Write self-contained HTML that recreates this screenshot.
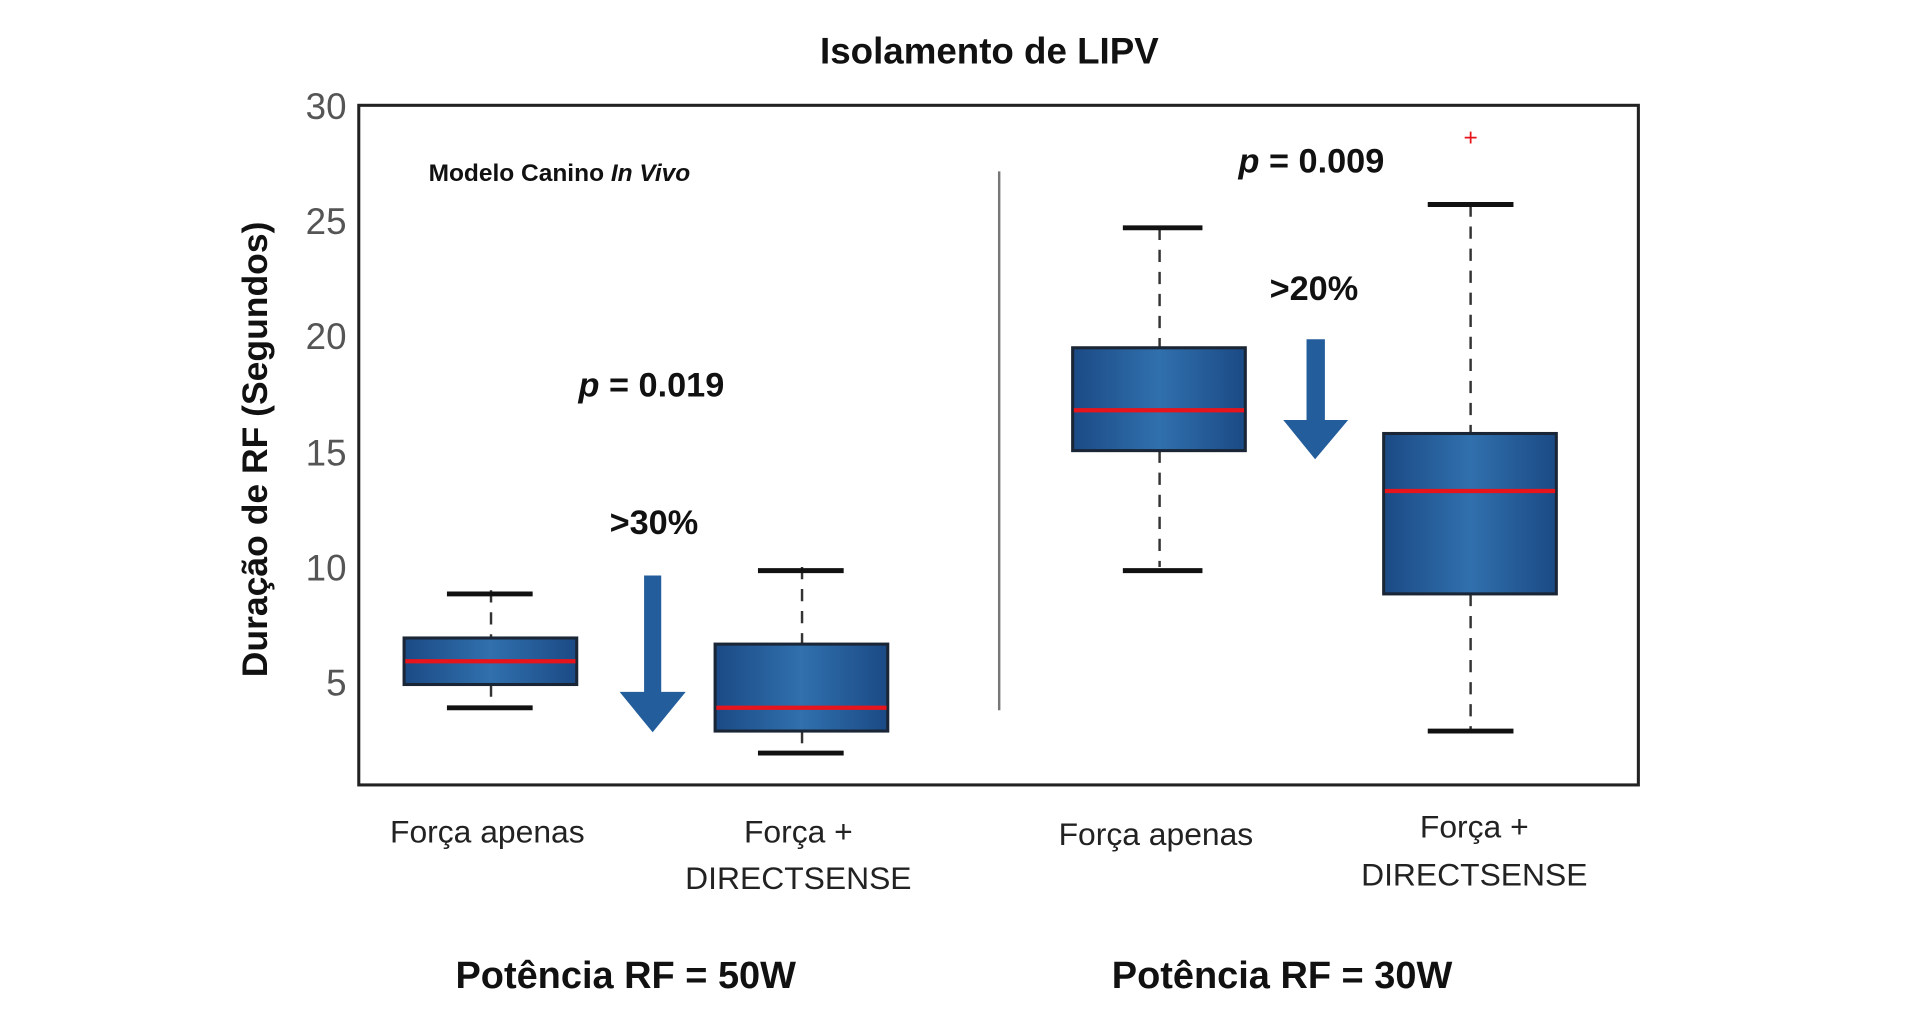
<!DOCTYPE html>
<html><head><meta charset="utf-8"><style>
html,body{margin:0;padding:0;background:#fff;}
svg{display:block;}
text{font-family:"Liberation Sans",sans-serif;}
</style></head><body>
<svg width="1920" height="1028" viewBox="0 0 1568 839.5" preserveAspectRatio="none" xmlns="http://www.w3.org/2000/svg">
<defs>
<linearGradient id="g" x1="0" x2="1" y1="0" y2="0">
<stop offset="0" stop-color="#1b4a85"/><stop offset="0.5" stop-color="#3070ad"/><stop offset="1" stop-color="#1b4a85"/>
</linearGradient>
</defs>
<text x="808" y="52" font-size="30" font-weight="bold" text-anchor="middle" fill="#111">Isolamento de LIPV</text>
<rect x="293" y="86" width="1045" height="555" fill="none" stroke="#222" stroke-width="2.5"/>
<g font-size="30" fill="#555" text-anchor="end">
<text x="283" y="97">30</text><text x="283" y="191">25</text><text x="283" y="285">20</text>
<text x="283" y="380">15</text><text x="283" y="474">10</text><text x="283" y="568">5</text>
</g>
<text transform="translate(218,367) rotate(-90)" font-size="29" font-weight="bold" text-anchor="middle" fill="#111">Duração de RF (Segundos)</text>
<text x="350" y="148" font-size="20" font-weight="bold" fill="#111">Modelo Canino <tspan font-style="italic">In Vivo</tspan></text>
<line x1="816" y1="140" x2="816" y2="580" stroke="#777" stroke-width="2"/>
<g stroke="#333" stroke-width="2" stroke-dasharray="10,8">
<line x1="401" y1="482" x2="401" y2="521"/><line x1="401" y1="559" x2="401" y2="576"/>
<line x1="655" y1="463" x2="655" y2="526"/><line x1="655" y1="597" x2="655" y2="614"/>
<line x1="947" y1="186" x2="947" y2="284"/><line x1="947" y1="368" x2="947" y2="463"/>
<line x1="1201" y1="167" x2="1201" y2="354"/><line x1="1201" y1="485" x2="1201" y2="597"/>
</g>
<g stroke="#111" stroke-width="4">
<line x1="365" y1="485" x2="435" y2="485"/><line x1="365" y1="578" x2="435" y2="578"/>
<line x1="619" y1="466" x2="689" y2="466"/><line x1="619" y1="615" x2="689" y2="615"/>
<line x1="917" y1="186" x2="982" y2="186"/><line x1="917" y1="466" x2="982" y2="466"/>
<line x1="1166" y1="167" x2="1236" y2="167"/><line x1="1166" y1="597" x2="1236" y2="597"/>
</g>
<g stroke="#1a2535" stroke-width="2.5" fill="url(#g)">
<rect x="330" y="521" width="141" height="38"/>
<rect x="584" y="526" width="141" height="71"/>
<rect x="876" y="284" width="141" height="84"/>
<rect x="1130" y="354" width="141" height="131"/>
</g>
<g stroke="#e8141c" stroke-width="3.5">
<line x1="331" y1="540" x2="470" y2="540"/>
<line x1="585" y1="578" x2="724" y2="578"/>
<line x1="877" y1="335" x2="1016" y2="335"/>
<line x1="1131" y1="401" x2="1270" y2="401"/>
</g>
<text x="1201" y="119" font-size="20" fill="#e8141c" text-anchor="middle">+</text>
<polygon points="526,470 540,470 540,565 560,565 533,598 506,565 526,565" fill="#235d9c"/>
<polygon points="1067,277 1082,277 1082,343 1101,343 1074,375 1048,343 1067,343" fill="#235d9c"/>
<text x="532" y="324" font-size="28" font-weight="bold" text-anchor="middle" fill="#111"><tspan font-style="italic">p</tspan> = 0.019</text>
<text x="534" y="436" font-size="28" font-weight="bold" text-anchor="middle" fill="#111">&gt;30%</text>
<text x="1071" y="141" font-size="28" font-weight="bold" text-anchor="middle" fill="#111"><tspan font-style="italic">p</tspan> = 0.009</text>
<text x="1073" y="245" font-size="28" font-weight="bold" text-anchor="middle" fill="#111">&gt;20%</text>
<g font-size="26" fill="#222" text-anchor="middle">
<text x="398" y="688">Força apenas</text>
<text x="652" y="688">Força +</text><text x="652" y="726">DIRECTSENSE</text>
<text x="944" y="690">Força apenas</text>
<text x="1204" y="684">Força +</text><text x="1204" y="723">DIRECTSENSE</text>
</g>
<g font-size="31" font-weight="bold" fill="#111" text-anchor="middle">
<text x="511" y="807">Potência RF = 50W</text>
<text x="1047" y="807">Potência RF = 30W</text>
</g>
</svg>
</body></html>
